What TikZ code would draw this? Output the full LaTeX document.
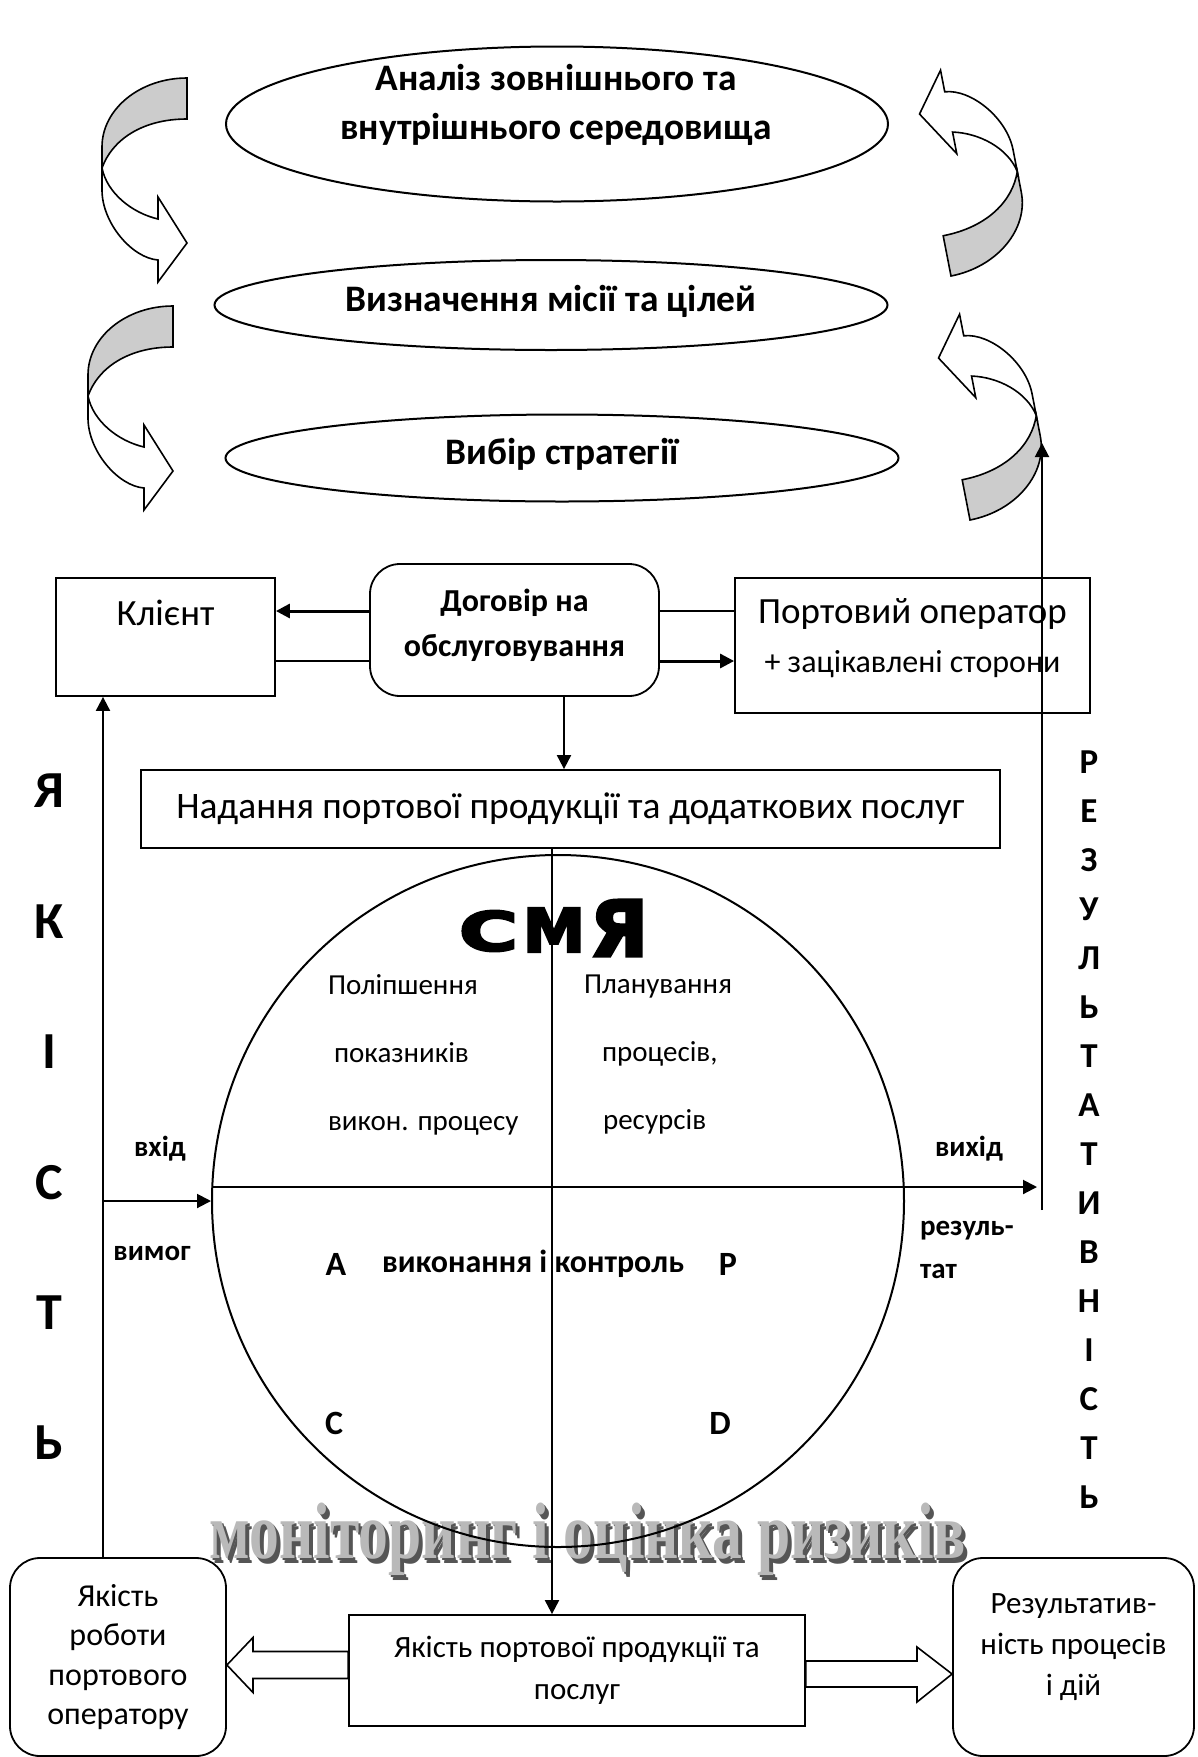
\documentclass[tikz,border=0pt]{standalone}
\usepackage{fontspec}
\usepackage{graphicx}
\setmainfont{Carlito}
\newfontfamily\heavyfont[FakeBold=4]{DejaVu Sans Bold}
\newfontfamily\artfont{Liberation Serif}
\usetikzlibrary{shapes.geometric,arrows.meta}

\definecolor{bandgray}{RGB}{204,204,204}
\definecolor{artface}{RGB}{185,185,185}
\definecolor{artside}{RGB}{85,85,85}

\tikzset{
  box/.style={shape=rectangle, draw, line width=0.9pt, fill=white, inner sep=0pt, align=center},
  rbox/.style={box, rounded corners=15pt},
  oval/.style={shape=ellipse, draw, line width=1pt, inner sep=0pt},
  title/.style={align=center, font=\fontsize{18.7}{24.5}\selectfont\bfseries},
  plain/.style={align=left, font=\fontsize{14.5}{34}\selectfont},
  small/.style={align=left, font=\fontsize{14.5}{21.5}\selectfont\bfseries},
  pdca/.style={font=\fontsize{17}{20}\selectfont\bfseries},
  arr/.style={-{Triangle[length=7pt,width=7pt]}, line width=1pt},
  carr/.style={-{Triangle[length=7pt,width=7pt]}, line width=1.5pt},
  thinline/.style={line width=0.8pt},
  blk/.style={draw, line width=0.8pt, fill=white},
  pics/turnarrow/.style={code={
    \filldraw[fill=bandgray, line width=0.8pt] (0,0) -- (0,41) .. controls (-45,41) and (-75,62) .. (-85,90)
      -- (-85,69) .. controls (-85,31) and (-47,0) .. (0,0) -- cycle;
    \filldraw[fill=white, line width=0.8pt] (-85,90) .. controls (-80,115) and (-55,135) .. (-29,141)
      -- (-29,119) -- (0,165) -- (-29,204) -- (-29,182) .. controls (-55,180) and (-85,145) .. (-85,112) -- cycle;
  }}
}

\begin{document}
\begin{tikzpicture}[x=0.5pt, y=-0.5pt]
\useasboundingbox (0,0) rectangle (1198,1757);

% strategy stages
\node(analiz) at (557,124)[oval, minimum width=331pt, minimum height=77.5pt] {};
\node(analiztxt) at (556,105)[title] {Аналіз зовнішнього та\\внутрішнього середовища};
\node(misiya) at (551,305)[oval, minimum width=336.5pt, minimum height=45pt, text height=8pt, text depth=2pt, title] {Визначення місії та цілей};
\node(vybir) at (562,458)[oval, minimum width=336.5pt, minimum height=43.5pt, text height=8pt, text depth=2pt, title] {Вибір стратегії};

\pic at (187,78) {turnarrow};
\pic at (173,306) {turnarrow};
\pic[rotate=191] at (951,276) {turnarrow};
\pic[rotate=191] at (970,520) {turnarrow};

% contract
\node(client) at (165.5,637)[box, minimum width=109.5pt, text height=23.5pt, text depth=35.5pt, font=\fontsize{18.5}{22}\selectfont] {Клієнт};
\node(dogovir) at (514.5,630)[rbox, minimum width=144.5pt, minimum height=66pt] {};
\node(dogovirtxt) at (514.5,625)[align=center, font=\fontsize{16}{22.5}\selectfont\bfseries] {Договір на\\обслуговування};
\node(port) at (912.5,645.5)[box, minimum width=177.5pt, minimum height=67.5pt] {};
\node(porttxt) at (912.5,638)[align=center, font=\fontsize{18.5}{24.5}\selectfont] {Портовий оператор\\{\fontsize{16}{24.5}\selectfont + зацікавлені сторони}};

% risk monitoring
\node(artside2) at (592,1563)[anchor=base, text=artside] {\resizebox{378pt}{\height}{\artfont\fontsize{40}{40}\selectfont\bfseries моніторинг і оцінка ризиків}};
\node(artside1) at (590,1560.5)[anchor=base, text=artside] {\resizebox{378pt}{\height}{\artfont\fontsize{40}{40}\selectfont\bfseries моніторинг і оцінка ризиків}};
\node(artface) at (588,1558)[anchor=base, text=artface] {\resizebox{378pt}{\height}{\artfont\fontsize{40}{40}\selectfont\bfseries моніторинг і оцінка ризиків}};

% PDCA circle
\node(kolo) at (558,1201)[shape=circle, draw, line width=1pt, minimum size=346pt, inner sep=0pt] {};
\node(nadannya) at (570.5,809)[box, minimum width=429.5pt, minimum height=39pt, font=\fontsize{18.7}{22}\selectfont] {Надання портової продукції та додаткових послуг};

\node(smya1) at (488.5,931)[inner sep=0pt] {\resizebox{29.5pt}{20pt}{\heavyfont С}};
\node(smya2) at (554,930)[inner sep=0pt] {\resizebox{31pt}{22pt}{\heavyfont М}};
\node(smya3) at (619,928)[inner sep=0pt] {\resizebox{29pt}{28pt}{\heavyfont Я}};

\node(improve) at (321,1055)[anchor=west, plain] {Поліпшення\\\hspace*{3pt}показників\\викон. процесу};
\node(plan) at (577,1055)[anchor=west, plain] {Планування\\\hspace*{9pt}процесів,\\\hspace*{9.5pt}ресурсів};
\node(lA) at (336,1264)[pdca] {A};
\node(control) at (533,1264)[font=\fontsize{16}{20}\selectfont\bfseries] {виконання і контроль};
\node(lP) at (728,1264)[pdca] {P};
\node(lC) at (334,1423)[pdca] {C};
\node(lD) at (720,1423)[pdca] {D};

\node(vkhid) at (160,1149)[small] {вхід};
\node(vymog) at (152,1253)[small] {вимог};
\node(vykhid) at (969,1149)[small] {вихід};
\node(rezultat) at (913,1250)[anchor=west, small] {резуль-\\тат};

\node(yakist) at (49,1117)[align=center, font=\fontsize{26}{65.2}\selectfont\bfseries] {Я\\К\\І\\С\\Т\\Ь};
\node(rezult) at (1089,1129.5)[align=center, font=\fontsize{17.5}{24.5}\selectfont\bfseries] {Р\\Е\\З\\У\\Л\\Ь\\Т\\А\\Т\\И\\В\\Н\\І\\С\\Т\\Ь};

% results
\node(robota) at (118,1657)[rbox, minimum width=108pt, minimum height=99pt, font=\fontsize{16}{19.75}\selectfont] {Якість\\роботи\\портового\\оператору};
\node(produkt) at (577,1670.5)[box, minimum width=228pt, minimum height=55.5pt, font=\fontsize{15.5}{21}\selectfont] {Якість портової продукції та\\послуг};
\node(result) at (1073.5,1657)[rbox, minimum width=120.5pt, minimum height=99pt] {};
\node(resulttxt) at (1073.5,1647)[align=center, font=\fontsize{15.5}{20.5}\selectfont] {Результатив-\\ність процесів\\і дій};

\coordinate(lx) at (103,0);
\coordinate(inpt) at (0,1201);
\coordinate(hline) at (0,1187);
\coordinate(axis) at (552,0);
\coordinate(outp) at (1037,1187);
\coordinate(rbot) at (1042,1210);
\coordinate(rtop) at (1042,443);
\coordinate(dn) at (564,0);
\coordinate(r1) at (0,611);
\coordinate(r2) at (0,661);

\draw[carr] (dogovir.west |- r1) -- (client.east |- r1);
\draw[thinline] (client.east |- r2) -- (dogovir.west |- r2);
\draw[thinline] (dogovir.east |- r1) -- (port.west |- r1);
\draw[carr] (dogovir.east |- r2) -- (port.west |- r2);
\draw[arr] (dogovir.south -| dn) -- (nadannya.north -| dn);

\draw[arr] (robota.north -| lx) -- (client.south -| lx);
\draw[arr] (lx |- inpt) -- (kolo.west);
\draw[arr] ([xshift=1pt]kolo.west |- hline) -- (outp);
\draw[arr] (rbot) -- (rtop);
\draw[arr] (nadannya.south -| axis) -- (produkt.north -| axis);

\draw[blk] (produkt.west |- 0,1651.5) -- (253,1651.5) -- (253,1637.5) -- (robota.east |- 0,1665) -- (253,1692.5) -- (253,1678.5) -- (produkt.west |- 0,1678.5) -- cycle;
\draw[blk] (produkt.east |- 0,1661) -- (917,1661) -- (917,1647) -- (result.west |- 0,1674) -- (917,1702) -- (917,1687) -- (produkt.east |- 0,1687) -- cycle;

\end{tikzpicture}
\end{document}
